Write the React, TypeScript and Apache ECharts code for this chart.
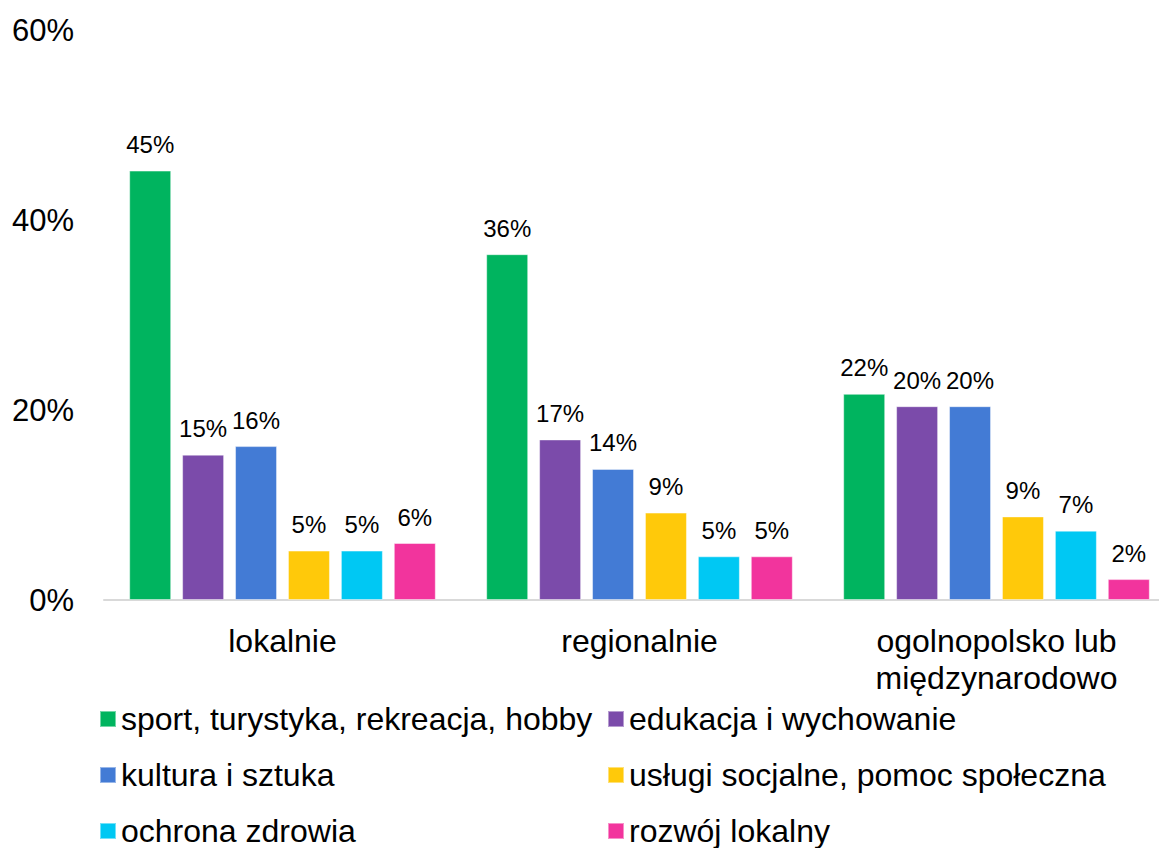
import React, { useEffect, useRef } from "react";
import * as echarts from "echarts";

const categories = ["lokalnie", "regionalnie", "ogolnopolsko lub\nmiędzynarodowo"];
const seriesNames = [
  "sport, turystyka, rekreacja, hobby",
  "edukacja i wychowanie",
  "kultura i sztuka",
  "usługi socjalne, pomoc społeczna",
  "ochrona zdrowia",
  "rozwój lokalny",
];
const sportValues = [45.2, 36.4, 21.7];
const edukacjaValues = [15.3, 16.9, 20.4];
const kulturaValues = [16.2, 13.8, 20.4];
const uslugiValues = [5.2, 9.2, 8.8];
const ochronaValues = [5.2, 4.6, 7.3];
const rozwojValues = [6.0, 4.6, 2.2];
const colors = ["#00B45F", "#7B4BAA", "#437BD5", "#FFC90A", "#00C8F3", "#F2349D"];
const yTicks = [0, 20, 40, 60];

const FONT = "'Liberation Sans', Arial, sans-serif";

export default function App() {
  const ref = useRef<HTMLDivElement>(null);
  useEffect(() => {
    if (!ref.current) return;
    const chart = echarts.init(ref.current, null, { renderer: "svg" });
    const allValues = [sportValues, edukacjaValues, kulturaValues, uslugiValues, ochronaValues, rozwojValues];
    const legendText = { fontFamily: FONT, fontSize: 32, color: "#000", lineHeight: 32 };
    const legendBase = {
      orient: "vertical",
      top: 703,
      height: 220,
      padding: 0,
      icon: "rect",
      itemWidth: 16,
      itemHeight: 16,
      itemGap: 24,
      selectedMode: false,
      textStyle: legendText,
    };
    chart.setOption({
      animation: false,
      backgroundColor: "#fff",
      textStyle: { fontFamily: FONT },
      grid: { left: 104, right: -16, top: 30, bottom: 248, containLabel: false, outerBoundsMode: "none" },
      legend: [
        { ...legendBase, left: 99, data: [seriesNames[0], seriesNames[2], seriesNames[4]] },
        { ...legendBase, left: 607, data: [seriesNames[1], seriesNames[3], seriesNames[5]] },
      ],
      xAxis: {
        type: "category",
        data: categories,
        axisLine: { show: true, lineStyle: { color: "#d9d9d9", width: 2 } },
        axisTick: { show: false },
        axisLabel: {
          color: "#000",
          fontSize: 32,
          lineHeight: 37,
          margin: 22,
          fontFamily: FONT,
          interval: 0,
        },
      },
      yAxis: {
        type: "value",
        min: yTicks[0],
        max: yTicks[yTicks.length - 1],
        interval: 20,
        axisLine: { show: false },
        axisTick: { show: false },
        splitLine: { show: false },
        axisLabel: {
          color: "#000",
          fontSize: 31,
          margin: 30,
          fontFamily: FONT,
          formatter: (v: number) => `${v}%`,
        },
      },
      series: seriesNames.map((name, i) => ({
        name,
        type: "bar",
        data: allValues[i],
        barWidth: 42,
        barGap: "26%",
        itemStyle: { color: colors[i], borderColor: "rgba(255,255,255,0.45)", borderWidth: 1 },
        label: {
          show: true,
          position: "top",
          distance: 14,
          color: "#000",
          fontSize: 24,
          fontFamily: FONT,
          formatter: (p: any) => `${Math.round(p.value)}%`,
        },
      })),
    });
    return () => chart.dispose();
  }, []);
  return (
    <div
      ref={ref}
      style={{ position: "absolute", left: 0, top: 0, width: 1159, height: 848, background: "#fff" }}
    />
  );
}
